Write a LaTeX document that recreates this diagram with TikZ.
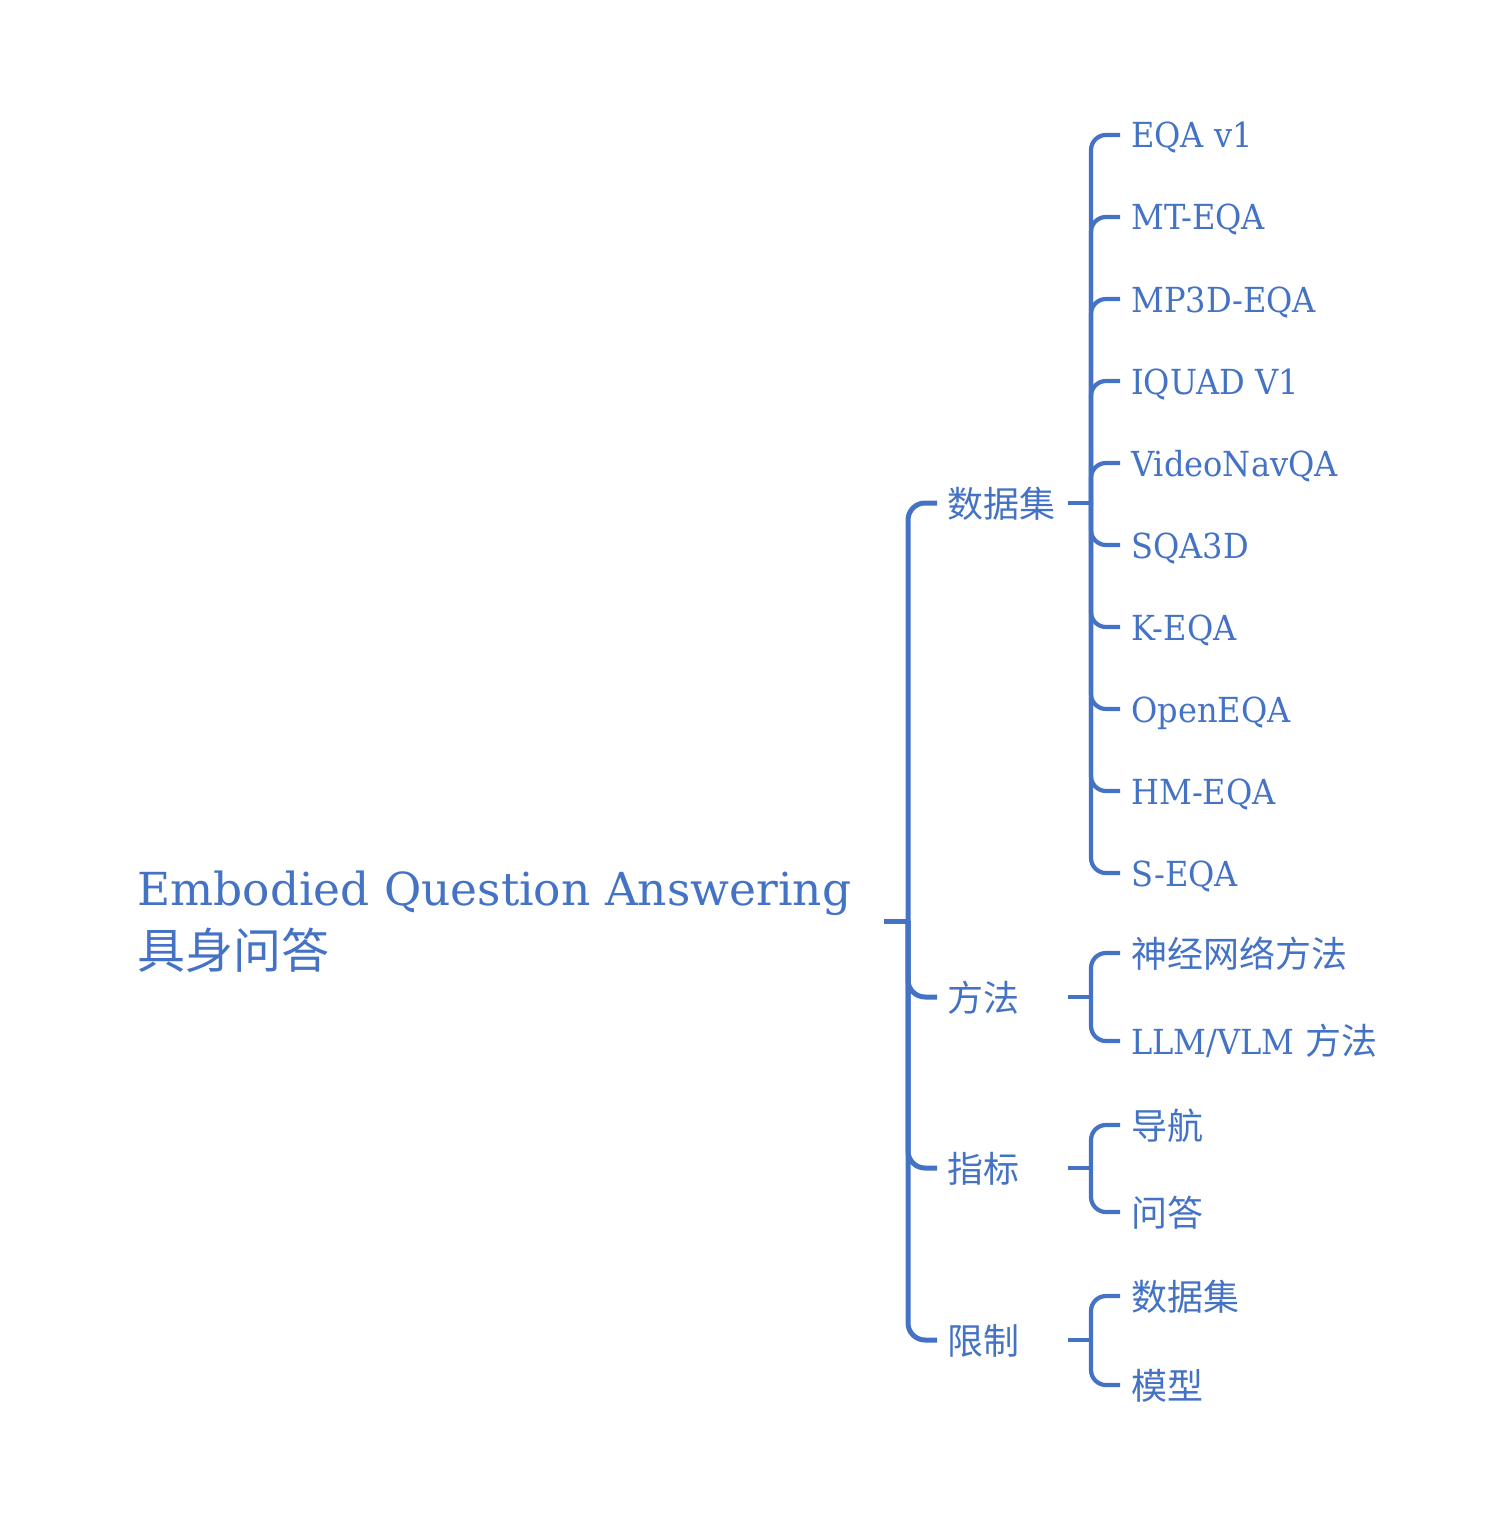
\documentclass[tikz,border=0pt]{standalone}
\usepackage{fontspec}
\setmainfont{DejaVu Serif}
\newfontfamily\narrowserif[FakeStretch=0.93]{DejaVu Serif}
\newfontfamily\cjk{Noto Sans CJK SC}
\definecolor{eqblue}{HTML}{4472C4}
\begin{document}
\begin{tikzpicture}[x=1pt,y=-1pt,
  trunk/.style={draw=eqblue, line width=5pt, rounded corners=17pt},
  subline/.style={draw=eqblue, line width=4.2pt, rounded corners=15pt},
  lab/.style={text=eqblue, inner sep=0pt, anchor=base west},
  latin/.style={lab, font=\narrowserif\fontsize{34.5}{40}\selectfont},
  cn/.style={lab, font=\cjk\fontsize{36}{42}\selectfont},
  rootfont/.style={lab, font=\fontsize{45.5}{55}\selectfont},
  rootcnfont/.style={lab, font=\cjk\fontsize{48}{56}\selectfont}]
\useasboundingbox (0,0) rectangle (1496,1522);

% root
\node[rootfont] (root) at (137,905) {Embodied Question Answering};
\node[rootcnfont] (rootcn) at (137,968) {具身问答};
\coordinate (rs) at (884,921);
\coordinate (j0) at (908,921);
\draw[trunk] (rs) -- (j0);

% level 1 branch ends
\coordinate (e1) at (937,503);
\coordinate (e2) at (937,997);
\coordinate (e3) at (937,1168);
\coordinate (e4) at (937,1340);
\draw[trunk] (j0) |- (e1);
\draw[trunk] (j0) |- (e2);
\draw[trunk] (j0) |- (e3);
\draw[trunk] (j0) |- (e4);

\node[cn] (n1) at ([shift={(10,14)}]e1) {数据集};
\node[cn] (n2) at ([shift={(10,14)}]e2) {方法};
\node[cn] (n3) at ([shift={(10,14)}]e3) {指标};
\node[cn] (n4) at ([shift={(10,14)}]e4) {限制};

% stubs to sub-brackets
\coordinate (s1) at (1068,503);  \coordinate (j1) at (1091,503);
\coordinate (s2) at (1068,997);  \coordinate (j2) at (1091,997);
\coordinate (s3) at (1068,1168); \coordinate (j3) at (1091,1168);
\coordinate (s4) at (1068,1340); \coordinate (j4) at (1091,1340);
\draw[subline] (s1) -- (j1);
\draw[subline] (s2) -- (j2);
\draw[subline] (s3) -- (j3);
\draw[subline] (s4) -- (j4);

% datasets
\foreach \i/\yy/\t in {1/135/EQA v1, 2/217/MT-EQA, 3/299/MP3D-EQA, 4/381/IQUAD V1,
  5/463/VideoNavQA, 6/545/SQA3D, 7/627/K-EQA, 8/709/OpenEQA, 9/791/HM-EQA, 10/873/S-EQA}{
  \coordinate (d\i) at (1120,\yy);
  \draw[subline] (j1) |- (d\i);
  \node[latin] (dn\i) at ([shift={(11,13)}]d\i) {\t};
}

% methods
\coordinate (m1) at (1120,953);
\coordinate (m2) at (1120,1041);
\draw[subline] (j2) |- (m1);
\draw[subline] (j2) |- (m2);
\node[cn] (mn1) at ([shift={(11,14)}]m1) {神经网络方法};
\node[latin] (mn2) at ([shift={(11,13)}]m2) {LLM/VLM {\cjk\fontsize{36}{42}\selectfont 方法}};

% metrics
\coordinate (k1) at (1120,1125);
\coordinate (k2) at (1120,1212);
\draw[subline] (j3) |- (k1);
\draw[subline] (j3) |- (k2);
\node[cn] (kn1) at ([shift={(11,14)}]k1) {导航};
\node[cn] (kn2) at ([shift={(11,14)}]k2) {问答};

% limits
\coordinate (l1) at (1120,1296);
\coordinate (l2) at (1120,1385);
\draw[subline] (j4) |- (l1);
\draw[subline] (j4) |- (l2);
\node[cn] (ln1) at ([shift={(11,14)}]l1) {数据集};
\node[cn] (ln2) at ([shift={(11,14)}]l2) {模型};
\end{tikzpicture}
\end{document}
